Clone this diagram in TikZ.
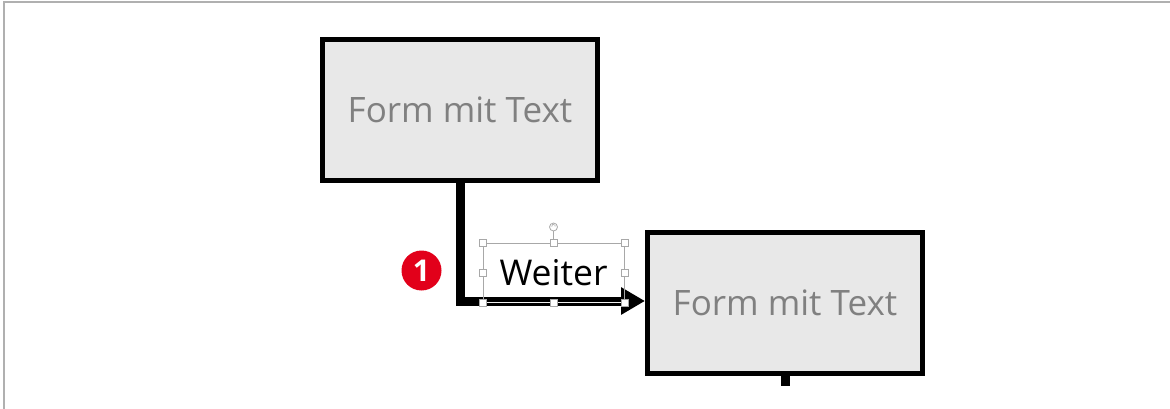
\documentclass[tikz,border=0pt]{standalone}
\usepackage{fontspec}
\setmainfont{Open Sans}
\usetikzlibrary{arrows.meta,calc}
\definecolor{boxfill}{HTML}{E8E8E8}
\definecolor{boxtext}{HTML}{808080}
\definecolor{framegray}{HTML}{B0B0B0}
\definecolor{selgray}{HTML}{A8A8A8}
\definecolor{badgered}{HTML}{E2001A}
\tikzset{
  shapebox/.style={draw=black, line width=5pt, fill=boxfill, minimum width=275pt,
    minimum height=141pt, inner sep=0pt, text=boxtext, font=\fontsize{35}{41}\selectfont},
  conn/.style={line width=9pt, draw=black},
  selbox/.style={draw=selgray, line width=0.9pt, minimum width=141pt, minimum height=59pt,
    inner sep=0pt, font=\fontsize{35.5}{41}\selectfont, text=black},
  handle/.style={draw=selgray, fill=white, line width=0.8pt, minimum size=7pt, inner sep=0pt},
  badge/.style={circle, fill=badgered, minimum size=40pt, inner sep=0pt, text=white,
    font=\bfseries\fontsize{30}{34}\selectfont}
}
\begin{document}
\begin{tikzpicture}[x=1pt,y=-1pt]
\useasboundingbox (0,0) rectangle (1170,409);
% frame
\draw[framegray, line width=2pt] (4,409) -- (4,2) -- (1170,2);
% boxes
\node[shapebox] (b1) at (460,110) {Form mit Text};
\node[shapebox] (b2) at (785,303) {Form mit Text};
% connector
\draw[conn, -{Triangle[length=24pt,width=26pt]}] (b1.south) |- ([yshift=2pt]b2.west);
\coordinate (stubend) at (785,386);
\draw[conn] (b2.south) -- (stubend);
% selected text box
\node[selbox] (lbl) at (553.5,272.5) {Weiter};
\draw[draw=white!85!selgray, line width=1.2pt] (lbl.south west) -- (lbl.south east);
\node[handle] (hnw) at (lbl.north west) {};
\node[handle] (hn) at (lbl.north) {};
\node[handle] (hne) at (lbl.north east) {};
\node[handle] (hw) at (lbl.west) {};
\node[handle] (he) at (lbl.east) {};
\node[handle] (hsw) at (lbl.south west) {};
\node[handle] (hs) at (lbl.south) {};
\node[handle] (hse) at (lbl.south east) {};
\node[circle, draw=selgray, fill=white, line width=0.8pt, minimum size=8pt, inner sep=0pt] (rot) at (553.5,227) {};
\draw[selgray, line width=0.6pt] (rot.south) -- (hn.north);
\draw[selgray, line width=0.6pt] ([shift={(-1.8pt,0.5pt)}]rot.center) arc[start angle=200, end angle=-20, radius=1.8pt];
% badge
\node[badge] (n1) at (421.5,270.5) {1};
\end{tikzpicture}
\end{document}
